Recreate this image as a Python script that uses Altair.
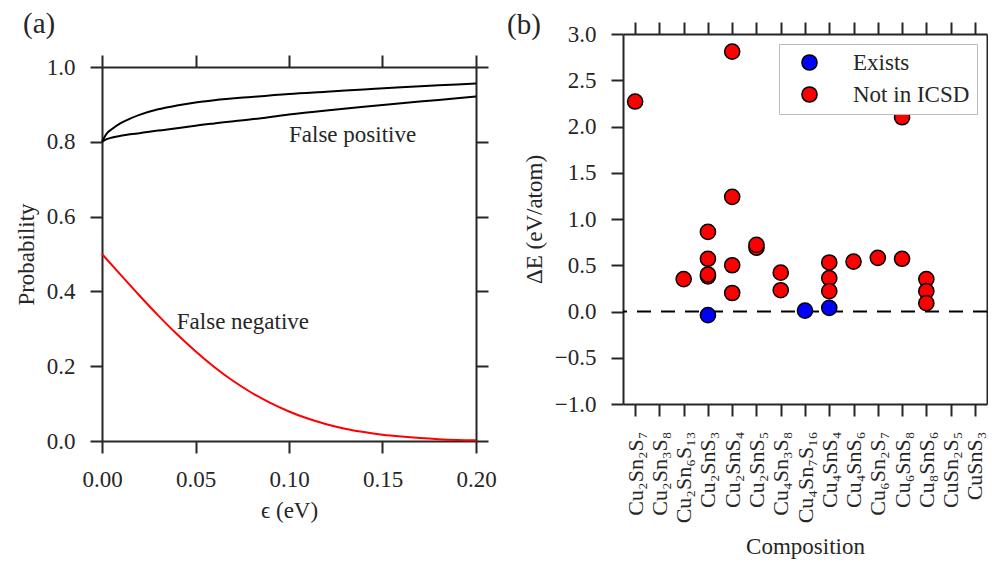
import altair as alt
import pandas as pd

FONT = "Liberation Serif"
INK = "#262626"
FS = 23

# ---------------- panel (a) data ----------------
fp_eps = [0.0, 0.0025, 0.005, 0.01, 0.015, 0.02, 0.03, 0.04, 0.05, 0.06, 0.08,
          0.10, 0.12, 0.14, 0.16, 0.18, 0.20]
fp_upper = [0.800, 0.822, 0.833, 0.850, 0.862, 0.872, 0.887, 0.897, 0.905, 0.911,
            0.920, 0.928, 0.934, 0.940, 0.946, 0.951, 0.956]
fp_lower = [0.800, 0.807, 0.811, 0.816, 0.820, 0.823, 0.830, 0.836, 0.843, 0.849,
            0.860, 0.873, 0.884, 0.894, 0.903, 0.912, 0.921]
fn_eps = [0.00, 0.01, 0.02, 0.03, 0.04, 0.05, 0.06, 0.07, 0.08, 0.09, 0.10,
          0.11, 0.12, 0.13, 0.14, 0.15, 0.16, 0.17, 0.18, 0.19, 0.20]
fn_prob = [0.500, 0.444, 0.389, 0.336, 0.286, 0.240, 0.198, 0.161, 0.129, 0.102,
           0.079, 0.060, 0.045, 0.033, 0.024, 0.017, 0.012, 0.008, 0.005, 0.003, 0.002]
a_xticks = [0.0, 0.05, 0.10, 0.15, 0.20]
a_yticks = [0.0, 0.2, 0.4, 0.6, 0.8, 1.0]
a_labels = ["False positive", "False negative"]
a_label_x = [0.10, 0.04]
a_label_y = [0.80, 0.30]

# ---------------- panel (b) data ----------------
compositions = ["Cu₂Sn₂S₇", "Cu₂Sn₃S₈", "Cu₂Sn₆S₁₃", "Cu₂SnS₃", "Cu₂SnS₄",
                "Cu₂SnS₅", "Cu₄Sn₃S₈", "Cu₄Sn₇S₁₆", "Cu₄SnS₄", "Cu₄SnS₆",
                "Cu₆Sn₂S₇", "Cu₆SnS₈", "Cu₈SnS₆", "CuSn₂S₅", "CuSnS₃"]
red_comp = ["Cu₂Sn₂S₇", "Cu₂Sn₆S₁₃",
            "Cu₂SnS₃", "Cu₂SnS₃", "Cu₂SnS₃", "Cu₂SnS₃",
            "Cu₂SnS₄", "Cu₂SnS₄", "Cu₂SnS₄", "Cu₂SnS₄",
            "Cu₂SnS₅", "Cu₂SnS₅",
            "Cu₄Sn₃S₈", "Cu₄Sn₃S₈",
            "Cu₄SnS₄", "Cu₄SnS₄", "Cu₄SnS₄",
            "Cu₄SnS₆", "Cu₆Sn₂S₇",
            "Cu₆SnS₈", "Cu₆SnS₈",
            "Cu₈SnS₆", "Cu₈SnS₆", "Cu₈SnS₆"]
red_de = [2.27, 0.35,
          0.86, 0.57, 0.38, 0.40,
          2.81, 1.24, 0.50, 0.20,
          0.69, 0.72,
          0.42, 0.23,
          0.53, 0.36, 0.22,
          0.54, 0.58,
          2.10, 0.57,
          0.35, 0.22, 0.09]
blue_comp = ["Cu₂SnS₃", "Cu₄Sn₇S₁₆", "Cu₄SnS₄"]
blue_de = [-0.04, 0.01, 0.04]
status_names = ["Exists", "Not in ICSD"]
status_colors = ["#0000ff", "#ff0000"]
b_yticks = [-1.0, -0.5, 0.0, 0.5, 1.0, 1.5, 2.0, 2.5, 3.0]

# panel (a) sits lower than panel (b): its plot area starts DROP px further down
DROP = 33
A_W, A_H = 374, 374
B_W, B_H = 364, 370


def axis(orient, values=None, fmt=None, title=None, labels=True, **kw):
    d = dict(orient=orient, domainColor=INK, domainWidth=2, tickColor=INK,
             tickWidth=2, tickSize=12, grid=False, labels=labels,
             labelFont=FONT, labelFontSize=FS, labelColor=INK, labelPadding=15,
             labelFlush=False, labelOverlap=False, titleFont=FONT,
             titleFontSize=FS, titleFontWeight="normal", titleColor=INK,
             titlePadding=8, title=title)
    if values is not None:
        d["values"] = values
    if fmt is not None:
        d["format"] = fmt
    d.update(kw)
    return alt.Axis(**d)


# ---------------- panel (a) ----------------
df_fp = pd.DataFrame({
    "eps": fp_eps + fp_eps,
    "p": fp_upper + fp_lower,
    "series": ["upper"] * len(fp_eps) + ["lower"] * len(fp_eps),
})
df_fn = pd.DataFrame({"eps": fn_eps, "p": fn_prob})
df_ann = pd.DataFrame({"x": a_label_x, "y": a_label_y, "label": a_labels})

xs_a = alt.Scale(domain=[0, 0.2], nice=False, zero=False)
ys_a = alt.Scale(domain=[0, 1], nice=False, range=[A_H + DROP, DROP])

black = alt.Chart(df_fp).mark_line(color="black", strokeWidth=2, interpolate="monotone").encode(
    x=alt.X("eps:Q", scale=xs_a, axis=axis("bottom", a_xticks, ".2f", "ϵ (eV)")),
    y=alt.Y("p:Q", scale=ys_a, axis=axis("left", a_yticks, ".1f", "Probability")),
    detail="series:N",
)
red = alt.Chart(df_fn).mark_line(color="#ff0000", strokeWidth=2, interpolate="monotone").encode(
    x=alt.X("eps:Q", scale=xs_a, axis=None),
    y=alt.Y("p:Q", scale=ys_a, axis=None),
)
mirror_a = alt.Chart(df_fn).mark_point(opacity=0).encode(
    x=alt.X("eps:Q", scale=xs_a, axis=axis("top", a_xticks, labels=False, offset=-DROP,
                                            minExtent=0)),
    y=alt.Y("p:Q", scale=ys_a, axis=axis("right", a_yticks, labels=False, minExtent=0)),
)
ann = alt.Chart(df_ann).mark_text(align="left", baseline="alphabetic", font=FONT,
                                  fontSize=FS, color=INK).encode(
    x=alt.X("x:Q", scale=xs_a, axis=None),
    y=alt.Y("y:Q", scale=ys_a, axis=None),
    text="label:N",
)
tag_a = alt.Chart(pd.DataFrame({"t": ["(a)"]})).mark_text(
    align="left", baseline="alphabetic", font=FONT, fontSize=29, color=INK
).encode(x=alt.value(-79), y=alt.value(-1), text="t:N")

panel_a = alt.layer(black, red, mirror_a, ann, tag_a).resolve_axis(
    x="independent", y="independent"
).properties(width=A_W, height=A_H + DROP)

# ---------------- panel (b) ----------------
df_b = pd.DataFrame({
    "comp": red_comp + blue_comp,
    "dE": red_de + blue_de,
    "status": ["Not in ICSD"] * len(red_comp) + ["Exists"] * len(blue_comp),
})
xs_b = alt.Scale(domain=compositions, padding=0.5)
ys_b = alt.Scale(domain=[-1, 3], nice=False)

zero_rule = alt.Chart(pd.DataFrame({"y": [0.0]})).mark_rule(
    color="black", strokeWidth=2, strokeDash=[14, 10]
).encode(y=alt.Y("y:Q", scale=ys_b, axis=None))

pts = alt.Chart(df_b).mark_circle(size=230, stroke="black", strokeWidth=1.5, opacity=1).encode(
    x=alt.X("comp:N", scale=xs_b, sort=compositions,
            axis=axis("bottom", title="Composition", labelAngle=270,
                      labelFontSize=22, titlePadding=13)),
    y=alt.Y("dE:Q", scale=ys_b, axis=axis("left", b_yticks, ".1f", "ΔE (eV/atom)")),
    color=alt.Color("status:N", scale=alt.Scale(domain=status_names, range=status_colors),
                    legend=alt.Legend(title=None, orient="top-right", offset=10,
                                      padding=7, strokeColor="#bbbbbb", fillColor="white",
                                      labelFont=FONT, labelFontSize=FS, labelColor=INK,
                                      symbolType="circle", symbolSize=230,
                                      symbolStrokeColor="black", symbolStrokeWidth=1.5,
                                      symbolOffset=12, labelOffset=32, rowPadding=8)),
)
mirror_b = alt.Chart(df_b).mark_point(opacity=0).encode(
    x=alt.X("comp:N", scale=xs_b, sort=compositions,
            axis=axis("top", labels=False, minExtent=0)),
    y=alt.Y("dE:Q", scale=ys_b, axis=axis("right", b_yticks, labels=False, ticks=False,
                                          minExtent=0)),
)
tag_b = alt.Chart(pd.DataFrame({"t": ["(b)"]})).mark_text(
    align="left", baseline="alphabetic", font=FONT, fontSize=29, color=INK
).encode(x=alt.value(-116), y=alt.value(0), text="t:N")

panel_b = alt.layer(zero_rule, pts, mirror_b, tag_b).resolve_axis(
    x="independent", y="independent"
).properties(width=B_W, height=B_H)

chart = alt.hconcat(panel_a, panel_b, spacing=10).resolve_scale(
    color="independent"
).properties(
    padding={"left": 7, "top": 2, "right": 0, "bottom": 0}
).configure_view(stroke=None)

chart.save("out.html", embed_options={"renderer": "svg", "actions": False})
